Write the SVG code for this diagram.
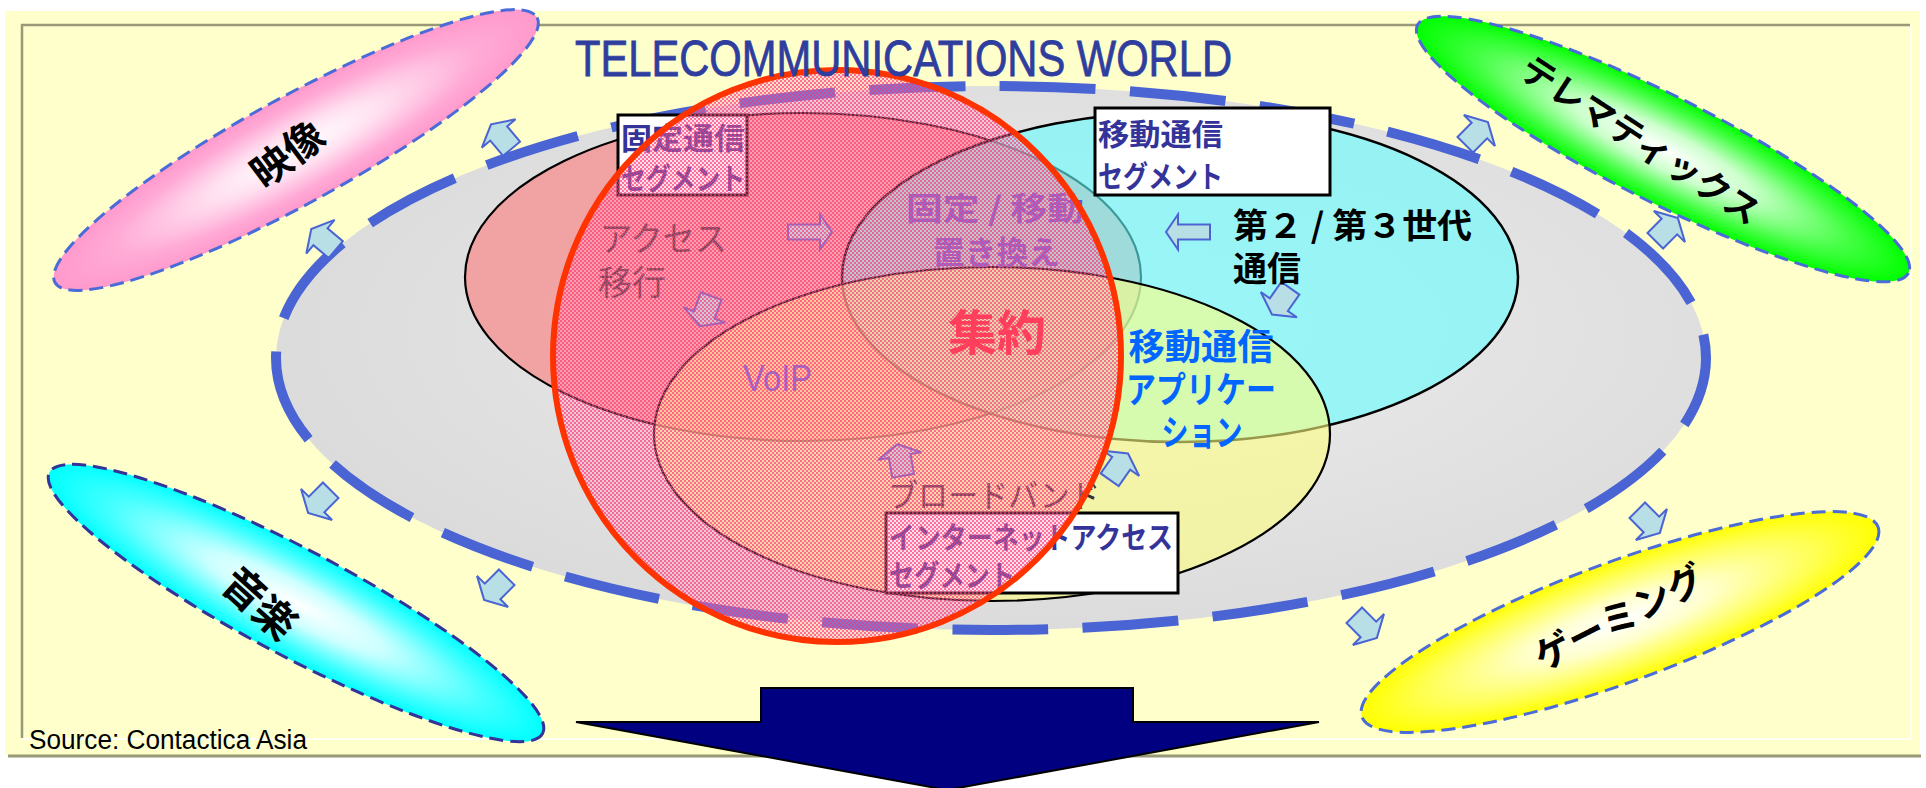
<svg xmlns="http://www.w3.org/2000/svg" width="1926" height="788" viewBox="0 0 1926 788">
<style>
.cjk{font-family:"Noto Sans CJK JP","Noto Sans CJK SC",sans-serif}
.lat{font-family:"Liberation Sans",Arial,sans-serif}
.arr{fill:#B8DEE6;stroke:#4A64D4;stroke-width:2;stroke-linejoin:miter}
.outer{stroke:#4A6BD8;stroke-width:3;stroke-dasharray:14 7}
.seg{stroke:#000;stroke-width:2.2}
.box{fill:#FFFFFF;stroke:#000;stroke-width:3}
.boxt{fill:#333399;font-weight:bold;font-size:30px}
.big{font-weight:bold;fill:#000;font-size:40px}
</style>
<defs>
<radialGradient id="gPink"><stop offset="0" stop-color="#FFFFFF"/><stop offset="0.35" stop-color="#FFE0F0"/><stop offset="0.75" stop-color="#FFAAD6"/><stop offset="1" stop-color="#FF99CC"/></radialGradient>
<radialGradient id="gGreen"><stop offset="0" stop-color="#FFFFFF"/><stop offset="0.35" stop-color="#CCFFCC"/><stop offset="0.75" stop-color="#44FF44"/><stop offset="1" stop-color="#00FF00"/></radialGradient>
<radialGradient id="gCyan"><stop offset="0" stop-color="#FFFFFF"/><stop offset="0.35" stop-color="#CCFFFF"/><stop offset="0.75" stop-color="#44FFFF"/><stop offset="1" stop-color="#00FFFF"/></radialGradient>
<radialGradient id="gYellow"><stop offset="0" stop-color="#FFFFFF"/><stop offset="0.35" stop-color="#FFFFCC"/><stop offset="0.75" stop-color="#FFFF55"/><stop offset="1" stop-color="#FFFF00"/></radialGradient>
<radialGradient id="gGray" cx="0.55" cy="0.45" r="0.6"><stop offset="0" stop-color="#EDEDED"/><stop offset="1" stop-color="#DADADA"/></radialGradient>
<pattern id="dots" width="4" height="4" patternUnits="userSpaceOnUse">
<rect width="4" height="4" fill="#FF99BB" fill-opacity="0.3"/>
<rect width="2" height="2" fill="#FF3377" fill-opacity="0.65"/>
<rect x="2" y="2" width="2" height="2" fill="#FF3377" fill-opacity="0.65"/>
</pattern>
<path id="arrA" d="M-22,-7.5 H10 V-17.5 L22,0 L10,17.5 V7.5 H-22 Z"/>
<path id="arrB" d="M-18,-11 H2 V-22 L14,0 L2,22 V11 H-18 Z"/>
</defs>

<g id="frame">
<rect x="5" y="11" width="1915" height="744" fill="#FFFFCC"/>
<path d="M22,739 H1911 V25" stroke="#FFFFF4" stroke-width="2" fill="none"/>
<path d="M22,738 V25 H1910" stroke="#999977" stroke-width="2.5" fill="none"/>
<line x1="8" y1="756" x2="1921" y2="756" stroke="#999977" stroke-width="3"/>
</g>

<g id="telecom-world">
<ellipse cx="991" cy="358" rx="715" ry="272" fill="url(#gGray)" stroke="#4A64D4" stroke-width="10" stroke-dasharray="96 34.4" stroke-dashoffset="25"/>
</g>

<g id="eizo">
<ellipse cx="296" cy="150" rx="275" ry="53" transform="rotate(-28.8 296 150)" fill="url(#gPink)" class="outer"/>
<text class="cjk big" x="0" y="0" text-anchor="middle" dominant-baseline="central" transform="translate(286 152) rotate(-37)">映像</text>
</g>
<g id="telematics">
<ellipse cx="1663" cy="149" rx="275" ry="53" transform="rotate(26.8 1663 149)" fill="url(#gGreen)" class="outer"/>
<text class="cjk big" style="font-size:35px" x="0" y="0" text-anchor="middle" dominant-baseline="central" transform="translate(1642 138) rotate(33)">テレマティックス</text>
</g>
<g id="ongaku">
<ellipse cx="296" cy="603" rx="279" ry="53" transform="rotate(27.9 296 603)" fill="url(#gCyan)" class="outer" style="stroke:#333399"/>
<text class="cjk big" style="font-size:42px" x="0" y="0" text-anchor="middle" dominant-baseline="central" transform="translate(262 601) rotate(42)">音楽</text>
</g>
<g id="gaming">
<ellipse cx="1620" cy="622" rx="275" ry="60" transform="rotate(-20.2 1620 622)" fill="url(#gYellow)" class="outer"/>
<text class="cjk big" style="font-size:37px" x="0" y="0" text-anchor="middle" dominant-baseline="central" transform="translate(1618 615) rotate(-27)">ゲーミング</text>
</g>

<g id="connectors">
<use href="#arrB" class="arr" transform="translate(500 135) rotate(-130)"/>
<use href="#arrB" class="arr" transform="translate(322 238) rotate(-140)"/>
<use href="#arrB" class="arr" transform="translate(1478 132) rotate(-45)"/>
<use href="#arrB" class="arr" transform="translate(1668 228) rotate(-45)"/>
<use href="#arrB" class="arr" transform="translate(318 503) rotate(135)"/>
<use href="#arrB" class="arr" transform="translate(494 590) rotate(135)"/>
<use href="#arrB" class="arr" transform="translate(1650 523) rotate(45)"/>
<use href="#arrB" class="arr" transform="translate(1367 628) rotate(45)"/>
</g>

<g id="fixed-segment">
<ellipse cx="803" cy="277" rx="338" ry="164" fill="#FF7070" fill-opacity="0.55" class="seg"/>
</g>
<g id="mobile-segment">
<ellipse cx="1180" cy="277" rx="338" ry="165" fill="#66FFFF" fill-opacity="0.6" class="seg" style="stroke-width:2.5"/>
</g>
<g id="broadband-segment">
<ellipse cx="992" cy="434" rx="338" ry="167" fill="#FFFF80" fill-opacity="0.6" class="seg"/>
</g>

<g id="inner-connectors">
<use href="#arrA" class="arr" transform="translate(810 232)"/>
<use href="#arrB" class="arr" transform="translate(705 313) rotate(110)"/>
<use href="#arrA" class="arr" transform="translate(1188 232) rotate(180)"/>
<use href="#arrB" class="arr" transform="translate(1280 303) rotate(125)"/>
<use href="#arrB" class="arr" transform="translate(900 458) rotate(-100)"/>
<use href="#arrB" class="arr" transform="translate(1120 465) rotate(-55)"/>
</g>

<g id="fixed-label">
<rect x="618" y="115" width="129" height="80" class="box"/>
<text class="cjk boxt" x="621" y="149" textLength="124" lengthAdjust="spacingAndGlyphs">固定通信</text>
<text class="cjk boxt" x="621" y="189" textLength="124" lengthAdjust="spacingAndGlyphs">セグメント</text>
</g>
<g id="mobile-label">
<rect x="1095" y="108" width="235" height="87" class="box"/>
<text class="cjk boxt" x="1098" y="145" textLength="125" lengthAdjust="spacingAndGlyphs">移動通信</text>
<text class="cjk boxt" x="1098" y="187" textLength="125" lengthAdjust="spacingAndGlyphs">セグメント</text>
</g>
<g id="broadband-label">
<text class="cjk" x="888" y="507" font-size="32" fill="#333333" textLength="212" lengthAdjust="spacingAndGlyphs">ブロードバンド</text>
<rect x="886" y="513" width="292" height="80" class="box"/>
<text class="cjk boxt" x="889" y="548" textLength="284" lengthAdjust="spacingAndGlyphs">インターネットアクセス</text>
<text class="cjk boxt" x="889" y="586" textLength="126" lengthAdjust="spacingAndGlyphs">セグメント</text>
</g>

<g id="inner-labels">
<text class="cjk" x="600" y="251" font-size="34" fill="#333333" textLength="127" lengthAdjust="spacingAndGlyphs">アクセス</text>
<text class="cjk" x="598" y="295" font-size="34" fill="#333333">移行</text>
<text class="cjk" x="906" y="220" font-size="32" font-weight="bold" fill="#5A5AE0" textLength="178" lengthAdjust="spacingAndGlyphs">固定 / 移動</text>
<text class="cjk" x="933" y="264" font-size="32" font-weight="bold" fill="#5A5AE0" textLength="127" lengthAdjust="spacingAndGlyphs">置き換え</text>
<text class="cjk" x="948" y="350" font-size="48" font-weight="bold" fill="#FF2020" textLength="98" lengthAdjust="spacingAndGlyphs">集約</text>
<text class="lat" x="743" y="391" font-size="36" fill="#4D66F0" textLength="69" lengthAdjust="spacingAndGlyphs">VoIP</text>
<text class="cjk" x="1233" y="238" font-size="34" font-weight="bold" fill="#000" textLength="239" lengthAdjust="spacingAndGlyphs">第２ / 第３世代</text>
<text class="cjk" x="1233" y="281" font-size="34" font-weight="bold" fill="#000">通信</text>
<text class="cjk" x="1201" y="360" font-size="36" font-weight="bold" fill="#0066FF" text-anchor="middle" textLength="145" lengthAdjust="spacingAndGlyphs">移動通信</text>
<text class="cjk" x="1201" y="403" font-size="36" font-weight="bold" fill="#0066FF" text-anchor="middle" textLength="150" lengthAdjust="spacingAndGlyphs">アプリケー</text>
<text class="cjk" x="1202" y="446" font-size="36" font-weight="bold" fill="#0066FF" text-anchor="middle" textLength="81" lengthAdjust="spacingAndGlyphs">ション</text>
</g>

<g id="convergence">
<ellipse cx="837" cy="356" rx="284" ry="286" fill="url(#dots)" stroke="#FF3300" stroke-width="6"/>
</g>

<g id="titles">
<text class="lat" x="575" y="76" font-size="50" fill="#2E3D9E" stroke="#2E3D9E" stroke-width="0.8" textLength="657" lengthAdjust="spacingAndGlyphs">TELECOMMUNICATIONS WORLD</text>
<text class="lat" x="29" y="749" font-size="27" fill="#000" textLength="278" lengthAdjust="spacingAndGlyphs">Source: Contactica Asia</text>
</g>

<g id="down-arrow">
<polygon points="761,688 1133,688 1133,722 1319,722 947,790 576,722 761,722" fill="#000080" stroke="#000" stroke-width="2"/>
</g>
</svg>
